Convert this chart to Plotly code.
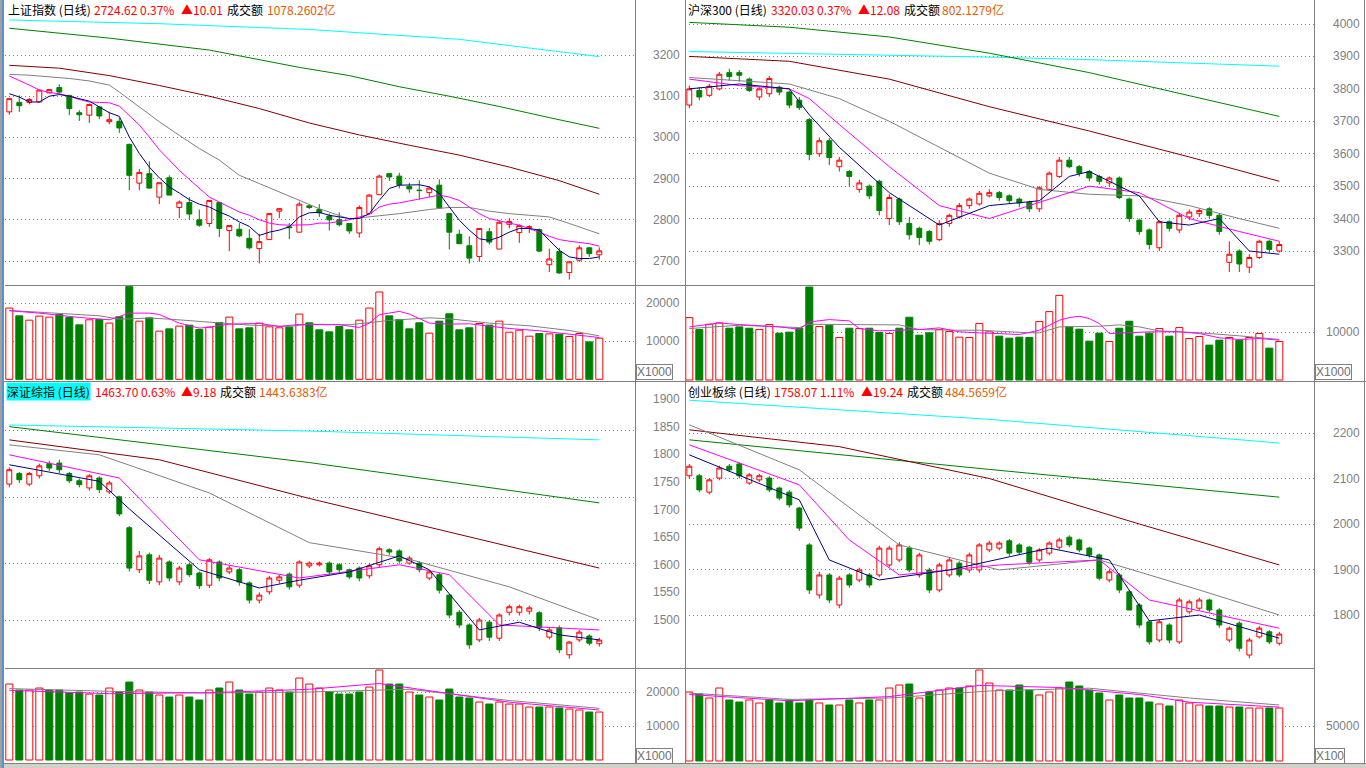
import plotly.graph_objects as go

W, H = 1366, 768
N = 60
days = list(range(N))

# ================= 上证指数 =================
sh_open = [3062,3085,3085,3086,3108,3121,3102,3060,3054,3074,3038,3039,2983,2889,2912,2855,2902,2830,2842,2800,2791,2842,2774,2777,2755,2730,2752,2821,2783,2770,2834,2825,2809,2800,2791,2768,2815,2861,2912,2906,2881,2872,2866,2884,2815,2765,2737,2711,2771,2729,2789,2769,2782,2776,2691,2723,2672,2702,2732,2715]
sh_close = [3094,3077,3092,3115,3116,3110,3070,3055,3080,3052,3043,3023,2908,2915,2877,2890,2860,2843,2814,2787,2847,2779,2786,2761,2732,2747,2815,2827,2781,2838,2830,2817,2800,2788,2773,2830,2860,2906,2904,2885,2875,2871,2877,2829,2770,2742,2707,2779,2746,2794,2796,2786,2783,2724,2705,2671,2698,2732,2718,2724.62]
sh_high = [3096,3102,3096,3116,3117,3129,3103,3066,3082,3075,3062,3048,2985,2923,2942,2891,2908,2847,2855,2825,2847,2843,2787,2792,2777,2766,2816,2828,2792,2844,2835,2838,2815,2818,2792,2835,2862,2910,2913,2914,2890,2896,2881,2898,2816,2776,2760,2779,2780,2799,2804,2789,2787,2779,2730,2732,2699,2738,2733,2733]
sh_low = [3055,3062,3080,3084,3107,3106,3054,3040,3035,3044,3032,3011,2872,2872,2876,2838,2859,2804,2800,2783,2783,2758,2724,2758,2728,2694,2751,2804,2753,2769,2826,2807,2774,2784,2766,2757,2814,2860,2894,2876,2866,2849,2855,2828,2728,2741,2694,2698,2740,2728,2779,2744,2768,2722,2673,2669,2655,2698,2710,2703]
sh_vol = [18670,16640,15500,16560,16300,17000,16210,14280,15600,15690,14730,16390,24280,15240,16120,12620,13230,13940,14200,13060,13670,14900,16300,13230,13500,14730,13760,13500,13670,17090,14810,12970,12440,13850,12970,15500,18670,22880,16640,15690,13230,14810,12090,15240,17170,12970,13500,14630,14200,15240,12350,12880,11300,12000,11920,11830,11210,12000,9800,10780]
sh_ma5_idx = list(range(60))
sh_ma5 = [3106,3098,3086,3086,3100,3104,3100,3094,3088,3074,3060,3051,3001,2961,2928,2902,2880,2865,2849,2838,2831,2819,2809,2795,2784,2762,2770,2775,2783,2807,2817,2818,2811,2807,2803,2803,2815,2847,2876,2884,2885,2885,2880,2864,2831,2799,2775,2754,2750,2758,2770,2779,2779,2775,2750,2726,2710,2706,2706,2710]
sh_ma10_idx = list(range(60))
sh_ma10 = [3149,3137,3127,3115,3109,3106,3100,3092,3086,3085,3084,3076,3054,3030,3001,2970,2945,2920,2898,2876,2855,2843,2831,2819,2811,2800,2792,2788,2787,2787,2788,2792,2792,2796,2800,2807,2813,2831,2838,2841,2846,2851,2855,2860,2855,2847,2831,2815,2803,2797,2792,2787,2779,2770,2760,2752,2748,2745,2742,2736]
sh_ma20_idx = [0,2,4,6,8,10,11,13,15,17,19,21,23,25,27,29,31,34,36,39,42,44,46,48,50,52,54,56,58,59]
sh_ma20 = [3153,3151,3147,3143,3137,3127,3110,3074,3038,3005,2973,2945,2908,2888,2868,2847,2827,2802,2807,2815,2825,2830,2830,2821,2815,2811,2807,2791,2775,2766]
sh_ma60_idx = [0,5,10,15,20,25,30,35,40,45,50,55,59]
sh_ma60 = [3175,3168,3150,3126,3100,3070,3035,3006,2981,2957,2928,2895,2862]
sh_ma120_idx = [0,10,20,29,34,39,44,49,54,59]
sh_ma120 = [3265,3241,3212,3170,3150,3123,3100,3075,3048,3022]
sh_ma250_idx = [0,15,30,45,59]
sh_ma250 = [3285,3276,3262,3238,3196]
sh_vma5_idx = [0,3,7,10,12,14,15,17,19,20,22,25,27,29,33,35,36,37,39,40,42,44,46,50,53,55,59]
sh_vma5 = [17960,17350,16210,15600,17350,17350,17000,14730,13410,13670,14460,14640,13850,14380,14290,13590,14720,16920,17800,17100,14720,14460,14550,13320,12710,12090,10950]
sh_vma10_idx = [0,5,9,11,14,16,19,22,24,28,30,34,38,42,44,48,52,56,59]
sh_vma10 = [18050,17180,16650,15770,16050,15770,15250,14720,14200,13850,14460,14290,15420,16120,15860,14720,14020,12800,11390]

# ================= 沪深300 =================
hs_open = [3750,3795,3780,3800,3850,3850,3830,3775,3785,3805,3790,3765,3705,3600,3640,3560,3545,3490,3500,3515,3400,3460,3385,3370,3360,3335,3385,3405,3440,3445,3470,3480,3470,3460,3450,3430,3490,3530,3580,3560,3545,3530,3510,3525,3460,3395,3365,3310,3390,3365,3405,3415,3430,3410,3265,3300,3250,3280,3330,3300]
hs_close = [3800,3775,3808,3845,3838,3842,3795,3800,3832,3790,3750,3742,3598,3640,3588,3580,3530,3510,3470,3425,3465,3390,3350,3342,3330,3385,3410,3440,3460,3478,3480,3465,3455,3448,3430,3495,3540,3580,3560,3540,3525,3515,3525,3465,3400,3360,3320,3390,3370,3410,3420,3425,3410,3360,3290,3260,3280,3330,3305,3320.03]
hs_high = [3810,3805,3815,3852,3862,3858,3835,3805,3840,3810,3795,3775,3710,3650,3648,3590,3550,3520,3505,3520,3475,3465,3405,3375,3365,3395,3415,3448,3465,3485,3490,3485,3475,3465,3455,3500,3545,3590,3590,3565,3550,3535,3530,3530,3465,3400,3370,3395,3395,3418,3428,3430,3435,3415,3330,3305,3290,3335,3335,3330]
hs_low = [3740,3765,3775,3795,3825,3822,3790,3765,3775,3780,3740,3735,3580,3590,3565,3545,3500,3480,3460,3410,3380,3380,3335,3318,3320,3330,3375,3400,3430,3440,3465,3455,3445,3435,3420,3420,3485,3525,3555,3530,3515,3505,3500,3460,3390,3350,3305,3300,3360,3355,3395,3405,3400,3350,3235,3235,3232,3275,3295,3295]
hs_vol = [13140,10620,11740,12020,10900,11180,10900,10620,11670,9860,10070,10900,19570,11250,11530,8950,10900,10830,10900,10000,9790,10900,13210,9440,9930,10620,10210,9020,8950,11880,10140,9230,8810,9020,8950,12300,14400,17820,11180,10700,8180,9860,8110,10900,12370,9230,9860,10830,9230,11040,8740,9160,7340,8390,8950,8390,8950,9790,6710,8110]
hs_ma5_idx = [0,5,10,12,15,20,25,30,35,38,40,45,47,50,53,56,59]
hs_ma5 = [3800,3815,3800,3720,3620,3480,3380,3440,3455,3530,3545,3470,3390,3380,3400,3300,3290]
hs_ma10_idx = [0,5,10,12,15,20,25,30,35,40,45,50,55,59]
hs_ma10 = [3830,3810,3800,3770,3690,3560,3440,3400,3450,3500,3480,3400,3360,3330]
hs_ma20_idx = [0,10,15,20,25,30,35,40,45,50,55,59]
hs_ma20 = [3835,3815,3770,3700,3620,3540,3490,3475,3470,3440,3400,3370]
hs_ma60_idx = [0,10,20,30,40,50,59]
hs_ma60 = [3900,3885,3830,3745,3670,3590,3515]
hs_ma120_idx = [0,10,20,30,40,50,59]
hs_ma120 = [4005,3990,3960,3910,3850,3780,3715]
hs_ma250_idx = [0,10,20,30,40,50,59]
hs_ma250 = [3915,3910,3905,3898,3890,3880,3870]
hs_vma5_idx = [0,2,3,5,7,9,11,12,14,16,17,19,21,23,25,27,29,31,33,35,36,37,38,39,40,41,42,44,46,49,51,53,55,57,59]
hs_vma5 = [11180,11670,12020,11670,11390,11180,10690,12230,12720,12440,10830,10340,10480,10620,10970,10140,9930,9790,9580,10480,11530,12580,13140,13420,12930,11880,9790,9930,10140,10140,9790,8880,8530,8740,8390]
hs_vma10_idx = [0,5,11,12,21,23,27,29,34,35,37,41,43,45,47,49,51,55,59]
hs_vma10 = [10830,11530,11040,11740,11600,10620,10480,10480,9930,9930,11180,11320,11600,11180,10340,10140,9930,9300,8530]

# ================= 深证综指 =================
sz_open = [1746,1765,1746,1761,1783,1784,1765,1752,1739,1757,1732,1723,1667,1591,1618,1569,1605,1569,1600,1585,1563,1605,1587,1591,1567,1536,1551,1572,1583,1563,1598,1600,1603,1600,1591,1594,1580,1600,1627,1625,1603,1603,1576,1582,1545,1514,1491,1464,1496,1467,1514,1514,1516,1513,1469,1486,1437,1464,1471,1457]
sz_close = [1772,1754,1765,1779,1775,1772,1752,1745,1761,1736,1748,1692,1594,1616,1572,1612,1576,1594,1582,1562,1609,1576,1594,1569,1536,1545,1576,1578,1560,1605,1603,1603,1587,1591,1578,1576,1598,1629,1623,1607,1612,1591,1587,1554,1509,1491,1455,1500,1469,1509,1524,1524,1522,1486,1482,1446,1460,1478,1458,1463.70]
sz_high = [1776,1768,1768,1783,1788,1790,1768,1756,1764,1760,1752,1725,1670,1625,1622,1618,1608,1598,1604,1588,1612,1608,1598,1594,1570,1550,1580,1582,1586,1608,1606,1606,1606,1603,1593,1597,1602,1633,1630,1628,1616,1606,1590,1585,1547,1518,1494,1504,1500,1512,1528,1528,1526,1516,1486,1490,1462,1482,1474,1468]
sz_low = [1740,1748,1742,1756,1770,1766,1748,1740,1734,1730,1728,1688,1588,1585,1565,1563,1570,1563,1578,1556,1558,1570,1583,1562,1530,1530,1546,1566,1555,1558,1594,1597,1582,1586,1574,1570,1575,1596,1618,1602,1600,1586,1572,1548,1503,1486,1448,1460,1462,1462,1508,1508,1510,1480,1465,1440,1430,1460,1454,1452]
sz_vol = [22340,20580,20580,21170,20580,20580,19700,19990,19400,19110,21170,19990,22930,20580,19990,19110,18520,19110,18520,17640,20580,21170,22930,20580,19400,19990,21170,20580,19990,24110,22340,21170,19990,19400,19400,19990,21460,26460,22340,22340,19990,19110,18520,17640,20870,18520,18230,17050,16460,17050,16460,16460,15580,15580,15580,15290,14990,14700,14110,14110]
sz_ma5_idx = [0,9,12,19,25,29,34,39,42,47,51,55,59]
sz_ma5 = [1781,1751,1701,1591,1558,1572,1587,1616,1591,1482,1496,1473,1464]
sz_ma10_idx = [0,11,19,29,39,44,49,59]
sz_ma10 = [1799,1757,1609,1576,1600,1582,1491,1482]
sz_ma20_idx = [0,9,20,30,40,50,59]
sz_ma20 = [1817,1799,1730,1640,1610,1560,1500]
sz_ma60_idx = [0,15,30,45,59]
sz_ma60 = [1826,1790,1720,1655,1594]
sz_ma120_idx = [0,30,59]
sz_ma120 = [1850,1785,1712]
sz_ma250_idx = [0,30,59]
sz_ma250 = [1853,1842,1826]
sz_vma5_idx = [0,10,20,30,37,45,50,59]
sz_vma5 = [20500,19500,19800,20800,22500,19000,17000,14700]
sz_vma10_idx = [0,10,20,30,40,50,59]
sz_vma10 = [21000,20200,19700,20000,20800,17500,15200]

# ================= 创业板综 =================
cy_open = [2106,2106,2070,2101,2127,2132,2090,2097,2101,2079,2070,2035,1954,1844,1888,1822,1888,1877,1888,1888,1910,1921,1947,1888,1899,1855,1888,1914,1899,1899,1943,1947,1963,1954,1949,1921,1936,1949,1971,1965,1947,1932,1877,1888,1851,1822,1785,1745,1778,1741,1807,1815,1833,1811,1745,1782,1712,1752,1763,1738]
cy_close = [2127,2075,2097,2123,2119,2106,2108,2106,2075,2057,2042,1991,1855,1888,1833,1881,1866,1899,1866,1947,1947,1954,1899,1932,1855,1910,1921,1888,1932,1954,1958,1958,1936,1938,1916,1943,1958,1965,1954,1943,1932,1881,1895,1855,1811,1778,1741,1785,1745,1833,1829,1833,1811,1778,1771,1727,1745,1771,1741,1758.07]
cy_high = [2132,2110,2100,2128,2132,2136,2112,2110,2105,2082,2074,2038,1958,1895,1892,1886,1892,1904,1892,1952,1952,1960,1952,1937,1904,1915,1926,1918,1937,1958,1963,1962,1967,1958,1952,1947,1962,1970,1975,1968,1950,1935,1900,1892,1855,1826,1789,1790,1782,1838,1834,1838,1836,1815,1775,1786,1750,1776,1767,1763]
cy_low = [2100,2070,2065,2096,2114,2100,2086,2092,2070,2052,2036,1985,1846,1836,1826,1815,1860,1872,1860,1883,1905,1916,1894,1882,1848,1850,1883,1883,1893,1893,1938,1942,1930,1932,1910,1916,1931,1944,1949,1938,1926,1876,1872,1848,1846,1772,1735,1740,1738,1736,1802,1810,1806,1772,1740,1720,1705,1748,1736,1733]
cy_vol = [98570,95720,90000,104290,87140,84290,87140,82860,87140,82860,87140,82860,87140,82860,80000,80000,87140,82860,87140,87140,104290,108570,110000,90000,98570,101430,104290,104290,107140,130000,111430,101430,101430,108570,101430,94290,98570,104290,112860,107140,101430,97140,87140,94290,90000,90000,84290,81430,78570,87140,82860,80000,78570,78570,77140,77140,75710,75710,75710,75710]
cy_ma5_idx = [0,11,14,19,26,36,42,46,51,59]
cy_ma5 = [2152,2053,1921,1877,1899,1947,1921,1787,1800,1749]
cy_ma10_idx = [0,11,16,21,31,41,46,59]
cy_ma10 = [2174,2086,1965,1888,1910,1921,1833,1771]
cy_ma20_idx = [0,11,21,31,41,51,59]
cy_ma20 = [2218,2119,1954,1899,1921,1855,1800]
cy_ma60_idx = [0,15,30,45,59]
cy_ma60 = [2207,2170,2100,2000,1910]
cy_ma120_idx = [0,30,59]
cy_ma120 = [2185,2120,2059]
cy_ma250_idx = [0,30,59]
cy_ma250 = [2272,2230,2178]
cy_vma5_idx = [0,10,20,29,37,45,50,59]
cy_vma5 = [95000,86000,92000,108000,105000,95000,84000,77000]
cy_vma10_idx = [0,10,20,30,40,50,59]
cy_vma10 = [97000,88000,90000,100000,104000,90000,80000]

# header texts
sh_head = ["上证指数 (日线)", "2724.62 0.37%", "▲10.01", "成交额", "1078.2602亿"]
hs_head = ["沪深300 (日线)", "3320.03 0.37%", "▲12.08", "成交额", "802.1279亿"]
sz_head = ["深证综指 (日线)", "1463.70 0.63%", "▲9.18", "成交额", "1443.6383亿"]
cy_head = ["创业板综 (日线)", "1758.07 1.11%", "▲19.24", "成交额", "484.5659亿"]

# axis tick labels
sh_pticks = [2700, 2800, 2900, 3000, 3100, 3200]
hs_pticks = [3300, 3400, 3500, 3600, 3700, 3800, 3900, 4000]
sz_pticks = [1500, 1550, 1600, 1650, 1700, 1750, 1800, 1850, 1900]
cy_pticks = [1800, 1900, 2000, 2100, 2200]
sh_vticks = [10000, 20000]
hs_vticks = [10000]
sz_vticks = [10000, 20000]
cy_vticks = [50000]

# ---------------- layout geometry (pixels) ----------------
panels = [
    dict(o=sh_open, h=sh_high, l=sh_low, c=sh_close, v=sh_vol,
         mas=[(sh_ma250_idx, sh_ma250), (sh_ma120_idx, sh_ma120), (sh_ma60_idx, sh_ma60),
              (sh_ma20_idx, sh_ma20), (sh_ma10_idx, sh_ma10), (sh_ma5_idx, sh_ma5)],
         vmas=[(sh_vma10_idx, sh_vma10), (sh_vma5_idx, sh_vma5)],
         x0=5, x1=635, ptop=17, pbot=285, vtop=286, vbot=381,
         pcal=((2700, 261), (3200, 55)), vcal=((0, 379.3), (20000, 303)),
         pticks=sh_pticks, grid_rows=None, vticks=sh_vticks, lab_x=682, unit="X1000", unit_x=636, unit_y=372,
         head=sh_head, head_x=[6, 92, 179, 225, 265], head_y=9.5),
    dict(o=hs_open, h=hs_high, l=hs_low, c=hs_close, v=hs_vol,
         mas=[(hs_ma250_idx, hs_ma250), (hs_ma120_idx, hs_ma120), (hs_ma60_idx, hs_ma60),
              (hs_ma20_idx, hs_ma20), (hs_ma10_idx, hs_ma10), (hs_ma5_idx, hs_ma5)],
         vmas=[(hs_vma10_idx, hs_vma10), (hs_vma5_idx, hs_vma5)],
         x0=685, x1=1314, ptop=17, pbot=285, vtop=286, vbot=381,
         pcal=((3300, 251), (4000, 24)), vcal=((0, 380), (10000, 332.5)),
         pticks=hs_pticks, grid_rows=None, vticks=hs_vticks, lab_x=1362, unit="X1000", unit_x=1315, unit_y=372,
         head=hs_head, head_x=[686, 769, 856, 902, 940], head_y=9.5),
    dict(o=sz_open, h=sz_high, l=sz_low, c=sz_close, v=sz_vol,
         mas=[(sz_ma250_idx, sz_ma250), (sz_ma120_idx, sz_ma120), (sz_ma60_idx, sz_ma60),
              (sz_ma20_idx, sz_ma20), (sz_ma10_idx, sz_ma10), (sz_ma5_idx, sz_ma5)],
         vmas=[(sz_vma10_idx, sz_vma10), (sz_vma5_idx, sz_vma5)],
         x0=5, x1=635, ptop=398, pbot=668, vtop=669, vbot=763,
         pcal=((1500, 620), (1900, 399)), vcal=((0, 760), (20000, 692)),
         pticks=sz_pticks, grid_rows=[430, 497, 563, 620], vticks=sz_vticks, lab_x=682, unit="X1000",
         unit_x=636, unit_y=756, head=sz_head, head_x=[6, 93, 179, 218, 257], head_y=391),
    dict(o=cy_open, h=cy_high, l=cy_low, c=cy_close, v=cy_vol,
         mas=[(cy_ma250_idx, cy_ma250), (cy_ma120_idx, cy_ma120), (cy_ma60_idx, cy_ma60),
              (cy_ma20_idx, cy_ma20), (cy_ma10_idx, cy_ma10), (cy_ma5_idx, cy_ma5)],
         vmas=[(cy_vma10_idx, cy_vma10), (cy_vma5_idx, cy_vma5)],
         x0=685, x1=1314, ptop=398, pbot=668, vtop=669, vbot=763,
         pcal=((1800, 615), (2200, 433)), vcal=((0, 761), (50000, 726)),
         pticks=cy_pticks, grid_rows=None, vticks=cy_vticks, lab_x=1362, unit="X100", unit_x=1315, unit_y=756,
         head=cy_head, head_x=[686, 772, 859, 905, 943], head_y=391),
]

MA_COLORS = ["#00ffff", "#008000", "#800000", "#808080", "#ff00ff", "#000080"]
VMA_COLORS = ["#808080", "#ff00ff"]
RED, GREEN, GRID, LAB = "#ff0000", "#008000", "#808080", "#808080"
HEAD_COLORS = ["#000000", "#ff0000", "#ff0000", "#000000", "#e65c00"]


def lin(cal, y):
    (va, ya), (vb, yb) = cal
    return va + (ya - y) * (vb - va) / (ya - yb)


fig = go.Figure()
layout = dict(width=W, height=H, margin=dict(l=0, r=0, t=0, b=0),
              paper_bgcolor="white", plot_bgcolor="white", showlegend=False,
              annotations=[], shapes=[])
SLOT = 10.0
OFF = 4.3

for k, p in enumerate(panels):
    pa, va = 2 * k + 1, 2 * k + 2
    xp, yp = ("x" if pa == 1 else f"x{pa}"), ("y" if pa == 1 else f"y{pa}")
    xv, yv = f"x{va}", f"y{va}"
    xr = [-OFF / SLOT, (p["x1"] - p["x0"] - OFF) / SLOT]
    xdom = [p["x0"] / W, p["x1"] / W]

    fig.add_trace(go.Candlestick(
        x=days, open=p["o"], high=p["h"], low=p["l"], close=p["c"],
        increasing=dict(line=dict(color=RED, width=1), fillcolor="#ffffff"),
        decreasing=dict(line=dict(color=GREEN, width=1), fillcolor=GREEN),
        whiskerwidth=0, xaxis=xp, yaxis=yp, hoverinfo="skip"))
    for (idx, vals), col in zip(p["mas"], MA_COLORS):
        fig.add_trace(go.Scatter(x=idx, y=vals, mode="lines", line=dict(color=col, width=1),
                                 xaxis=xp, yaxis=yp, hoverinfo="skip"))
    up = [c >= o for o, c in zip(p["o"], p["c"])]
    fig.add_trace(go.Bar(x=days, y=p["v"], width=0.7,
                         marker=dict(color=["#ffffff" if u else GREEN for u in up],
                                     line=dict(color=[RED if u else GREEN for u in up], width=1)),
                         xaxis=xv, yaxis=yv, hoverinfo="skip"))
    for (idx, vals), col in zip(p["vmas"], VMA_COLORS):
        fig.add_trace(go.Scatter(x=idx, y=vals, mode="lines", line=dict(color=col, width=1),
                                 xaxis=xv, yaxis=yv, hoverinfo="skip"))

    prange = [lin(p["pcal"], p["pbot"]), lin(p["pcal"], p["ptop"])]
    vrange = [lin(p["vcal"], p["vbot"]), lin(p["vcal"], p["vtop"])]
    if p["grid_rows"]:
        gridvals = [lin(p["pcal"], r) for r in p["grid_rows"]]
    else:
        gridvals = p["pticks"]
    common_x = dict(domain=xdom, range=xr, visible=False, fixedrange=True)
    layout["xaxis" if pa == 1 else f"xaxis{pa}"] = dict(common_x, anchor=yp, rangeslider=dict(visible=False))
    layout[f"xaxis{va}"] = dict(common_x, anchor=yv)
    common_y = dict(showgrid=True, gridcolor=GRID, griddash="1px,3px", gridwidth=1,
                    zeroline=False, showticklabels=False, ticks="", showline=False)
    layout["yaxis" if pa == 1 else f"yaxis{pa}"] = dict(
        common_y, domain=[1 - p["pbot"] / H, 1 - p["ptop"] / H], range=prange,
        tickvals=gridvals, anchor=xp)
    layout[f"yaxis{va}"] = dict(
        common_y, domain=[1 - p["vbot"] / H, 1 - p["vtop"] / H], range=vrange,
        tickvals=p["vticks"], anchor=xv)

    for t in p["pticks"]:
        layout["annotations"].append(dict(
            x=p["lab_x"] / W, xref="paper", y=t, yref=yp, text=str(t), showarrow=False,
            xanchor="right", yanchor="middle", font=dict(family="Liberation Sans", size=12, color=LAB)))
    for t in p["vticks"]:
        layout["annotations"].append(dict(
            x=p["lab_x"] / W, xref="paper", y=t, yref=yv, text=str(t), showarrow=False,
            xanchor="right", yanchor="middle", font=dict(family="Liberation Sans", size=12, color=LAB)))
    layout["annotations"].append(dict(
        x=p["unit_x"] / W, xref="paper", y=1 - p["unit_y"] / H, yref="paper", text=p["unit"],
        showarrow=False, xanchor="left", yanchor="middle", bordercolor="#808080", borderwidth=1,
        borderpad=0, font=dict(family="Liberation Sans", size=12, color="#707070")))
    for j, (txt, hx) in enumerate(zip(p["head"], p["head_x"])):
        ann = dict(x=hx / W, xref="paper", y=1 - p["head_y"] / H, yref="paper", text=txt,
                   showarrow=False, xanchor="left", yanchor="middle",
                   font=dict(family="Noto Sans CJK SC", size=12, color=HEAD_COLORS[j]))
        if k == 2 and j == 0:
            ann["bgcolor"] = "#00ffff"
            ann["borderpad"] = 0
        layout["annotations"].append(ann)


def pline(x0, y0, x1, y1, color="#808080", width=1):
    layout["shapes"].append(dict(type="line", xref="paper", yref="paper",
                                 x0=x0 / W, x1=x1 / W, y0=1 - y0 / H, y1=1 - y1 / H,
                                 line=dict(color=color, width=width)))


def prect(x0, y0, x1, y1, color):
    layout["shapes"].append(dict(type="rect", xref="paper", yref="paper",
                                 x0=x0 / W, x1=x1 / W, y0=1 - y1 / H, y1=1 - y0 / H,
                                 fillcolor=color, line=dict(width=0)))


for xx in (635.5, 685.5, 1314.5, 1364.5):
    pline(xx, 0, xx, 763)
pline(5, 285.5, 1314.5, 285.5)
pline(5, 668.5, 1314.5, 668.5)
pline(0, 381.5, W, 381.5)
pline(0, 763.5, W, 763.5)
prect(0, 764, W, 768, "#d4d0c8")
prect(0, 0, 2, 768, "#a0a0a0")
prect(2, 0, 4, 768, "#5a8fd0")

fig.update_layout(**layout)
fig.write_html("out.html")
